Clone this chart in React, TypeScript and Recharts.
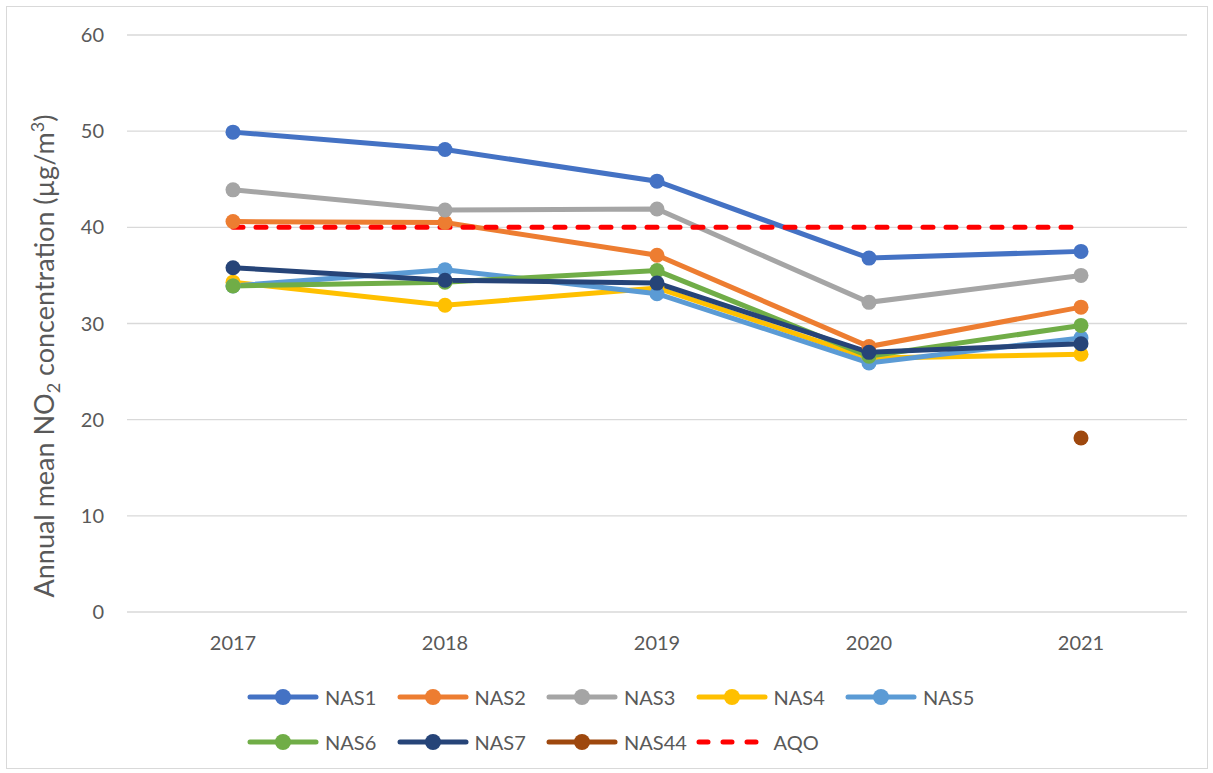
import React from 'react';
import { LineChart, Line, XAxis, YAxis, CartesianGrid } from 'recharts';

const years = ['2017', '2018', '2019', '2020', '2021'];
const nas1 = [49.9, 48.1, 44.8, 36.8, 37.5];
const nas2 = [40.6, 40.5, 37.1, 27.6, 31.7];
const nas3 = [43.9, 41.8, 41.9, 32.2, 35.0];
const nas4 = [34.3, 31.9, 33.7, 26.4, 26.8];
const nas5 = [33.9, 35.6, 33.1, 25.9, 28.5];
const nas6 = [33.9, 34.3, 35.5, 26.6, 29.8];
const nas7 = [35.8, 34.5, 34.2, 27.0, 27.9];
const nas44 = [null, null, null, null, 18.1];
const aqo = [40, 40, 40, 40, 40];
const yTicks = [0, 10, 20, 30, 40, 50, 60];

const SERIES = [
  { key: 'NAS1', values: nas1, color: '#4472C4' },
  { key: 'NAS2', values: nas2, color: '#ED7D31' },
  { key: 'NAS3', values: nas3, color: '#A5A5A5' },
  { key: 'NAS4', values: nas4, color: '#FFC000' },
  { key: 'NAS5', values: nas5, color: '#5B9BD5' },
  { key: 'NAS6', values: nas6, color: '#70AD47' },
  { key: 'NAS7', values: nas7, color: '#264478' },
  { key: 'NAS44', values: nas44, color: '#9E480E' },
];
const AQO_COLOR = '#FF0000';

const data = years.map((year, i) => {
  const row: Record<string, any> = { year, AQO: aqo[i] };
  SERIES.forEach(s => { row[s.key] = s.values[i]; });
  return row;
});

const FONT = 'Lato, "Open Sans", sans-serif';
const TEXT = '#595959';

// rotated axis title with NO2 subscript and m3 superscript
const YLabel = () => (
  <text
    transform="translate(54, 356) rotate(-90)"
    textAnchor="middle"
    fill={TEXT}
    fontSize={27}
    fontFamily={FONT}
  >
    <tspan>Annual mean NO</tspan>
    <tspan fontSize={18} dy={6}>2</tspan>
    <tspan dy={-6}> concentration (µg/m</tspan>
    <tspan fontSize={18} dy={-10}>3</tspan>
    <tspan dy={10}>)</tspan>
  </text>
);

const legendRows = [
  ['NAS1', 'NAS2', 'NAS3', 'NAS4', 'NAS5'],
  ['NAS6', 'NAS7', 'NAS44', 'AQO'],
];

const LegendIcon = ({ name }: { name: string }) => {
  if (name === 'AQO') {
    return (
      <svg width={72} height={18} style={{ display: 'block' }}>
        <line x1={3} y1={9} x2={64} y2={9} stroke={AQO_COLOR} strokeWidth={5}
          strokeDasharray="9 15" strokeLinecap="round" />
      </svg>
    );
  }
  const color = SERIES.find(s => s.key === name)!.color;
  return (
    <svg width={72} height={18} style={{ display: 'block' }}>
      <line x1={3} y1={9} x2={69} y2={9} stroke={color} strokeWidth={5} strokeLinecap="round" />
      <circle cx={36} cy={9} r={8} fill={color} />
    </svg>
  );
};

const ChartLegend = () => (
  <div style={{ position: 'absolute', left: 0, top: 0, fontFamily: FONT, fontSize: 20, color: TEXT }}>
    {legendRows.map((row, r) =>
      row.map((name, i) => (
        <div
          key={name}
          style={{
            position: 'absolute',
            left: 247 + i * 149.5,
            top: 697 + r * 45 - 12,
            height: 24,
            display: 'flex',
            alignItems: 'center',
            whiteSpace: 'nowrap',
          }}
        >
          <LegendIcon name={name} />
          <span style={{ marginLeft: 6 }}>{name}</span>
        </div>
      ))
    )}
  </div>
);

export default function App() {
  return (
    <div style={{ position: 'absolute', left: 0, top: 0, width: 1213, height: 773, background: '#fff' }}>
      <div style={{ position: 'absolute', left: 6, top: 6, width: 1200, height: 761, border: '1px solid #D9D9D9' }} />
      <LineChart
        width={1213}
        height={660}
        data={data}
        margin={{ top: 35, right: 26, bottom: 18, left: 0 }}
      >
        <CartesianGrid vertical={false} stroke="#D9D9D9" strokeWidth={1.3} />
        <XAxis
          dataKey="year"
          padding={{ left: 106, right: 106 }}
          axisLine={false}
          tickLine={false}
          tickMargin={18}
          tick={{ fill: TEXT, fontSize: 20, fontFamily: FONT }}
        />
        <YAxis
          width={127}
          domain={[0, 60]}
          ticks={yTicks}
          axisLine={false}
          tickLine={false}
          tickMargin={17}
          tick={{ fill: TEXT, fontSize: 20, fontFamily: FONT }}
          label={<YLabel />}
        />
        {SERIES.map(s => (
          <Line
            key={s.key}
            dataKey={s.key}
            stroke={s.color}
            strokeWidth={5}
            dot={{ r: 7.5, fill: s.color, stroke: s.color, strokeWidth: 0 }}
            activeDot={false}
            isAnimationActive={false}
          />
        ))}
        <Line
          dataKey="AQO"
          stroke={AQO_COLOR}
          strokeWidth={5}
          strokeDasharray="10 13"
          strokeLinecap="round"
          dot={false}
          activeDot={false}
          isAnimationActive={false}
        />
      </LineChart>
      <ChartLegend />
    </div>
  );
}
